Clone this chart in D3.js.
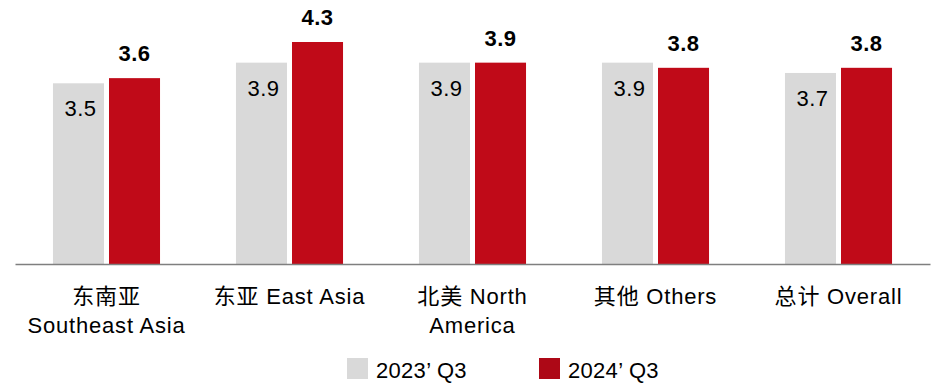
<!DOCTYPE html>
<html>
<head>
<meta charset="utf-8">
<script src="https://cdn.jsdelivr.net/npm/d3@7"></script>
<style>
  html, body { margin: 0; padding: 0; background: #fff; }
  svg { display: block; font-family: "Liberation Sans", Arial, "Noto Sans CJK SC", sans-serif; }
</style>
</head>
<body>
<svg id="chart" width="933" height="383"></svg>
<script>
// Regions (two-line labels split on "\n")
const categories = ["东南亚\nSoutheast Asia", "东亚 East Asia", "北美 North\nAmerica", "其他 Others", "总计 Overall"];
const seriesNames = ["2023’ Q3", "2024’ Q3"];
const values2023 = [3.5, 3.9, 3.9, 3.9, 3.7];
const values2024 = [3.6, 4.3, 3.9, 3.8, 3.8];

const colors = { "2023’ Q3": "#d9d9d9", "2024’ Q3": "#c00a18" };
const legendColors = { "2023’ Q3": "#d9d9d9", "2024’ Q3": "#ad0816" };

const svg = d3.select("#chart");

const x = d3.scaleBand().domain(categories).range([15, 930])
  .paddingInner(0.415).paddingOuter(0.2075);
const xs = d3.scaleBand().domain(seriesNames).range([0, x.bandwidth()])
  .paddingInner(5 / 56).paddingOuter(0);
const y = d3.scaleLinear().domain([0, 4.3]).range([264, 42]);

const rows = categories.map((c, i) => ({
  cat: c,
  vals: [
    { s: seriesNames[0], v: values2023[i] },
    { s: seriesNames[1], v: values2024[i] }
  ]
}));

const groups = svg.append("g").selectAll("g").data(rows).join("g")
  .attr("transform", d => `translate(${x(d.cat)},0)`);

groups.selectAll("rect").data(d => d.vals).join("rect")
  .attr("x", d => xs(d.s))
  .attr("y", d => y(d.v))
  .attr("width", xs.bandwidth())
  .attr("height", d => y(0) - y(d.v))
  .attr("fill", d => colors[d.s]);

// 2023 values sit inside the grey bars, 2024 values above the red bars in bold
groups.selectAll("text.val").data(d => d.vals).join("text")
  .attr("class", "val")
  .attr("x", d => xs(d.s) + xs.bandwidth() / 2 + (d.s === seriesNames[0] ? 2 : 0))
  .attr("y", d => d.s === seriesNames[0] ? y(d.v) + 33 : y(d.v) - 17)
  .attr("text-anchor", "middle")
  .attr("font-size", 22)
  .attr("letter-spacing", "0.4px")
  .attr("font-weight", d => d.s === seriesNames[0] ? "normal" : "bold")
  .attr("fill", "#000")
  .text(d => d3.format(".1f")(d.v));

// Category axis
const axis = svg.append("g")
  .attr("transform", `translate(0,${y(0)})`)
  .call(d3.axisBottom(x).tickSize(0).tickSizeOuter(0).tickPadding(0));
axis.select(".domain").attr("stroke", "#7f7f7f").attr("stroke-width", 1.5);
axis.selectAll(".tick text").each(function(d) {
  const t = d3.select(this).text(null)
    .attr("y", 0).attr("dy", null)
    .attr("font-size", 22)
    .attr("letter-spacing", "0.8px")
    .attr("fill", "#000")
    .attr("font-family", "'Liberation Sans', Arial, 'Noto Sans CJK SC', sans-serif");
  d.split("\n").forEach((line, i) => {
    t.append("tspan").attr("x", 0).attr("y", 40 + i * 29).text(line);
  });
});

// Legend
const legend = svg.append("g");
const legendX = [347, 539];
seriesNames.forEach((s, i) => {
  legend.append("rect").attr("x", legendX[i]).attr("y", 358)
    .attr("width", 21).attr("height", 21).attr("fill", legendColors[s]);
  legend.append("text").attr("x", legendX[i] + 29).attr("y", 378)
    .attr("font-size", 22).attr("letter-spacing", "0.3px")
    .attr("fill", "#000").text(s);
});
</script>
</body>
</html>
